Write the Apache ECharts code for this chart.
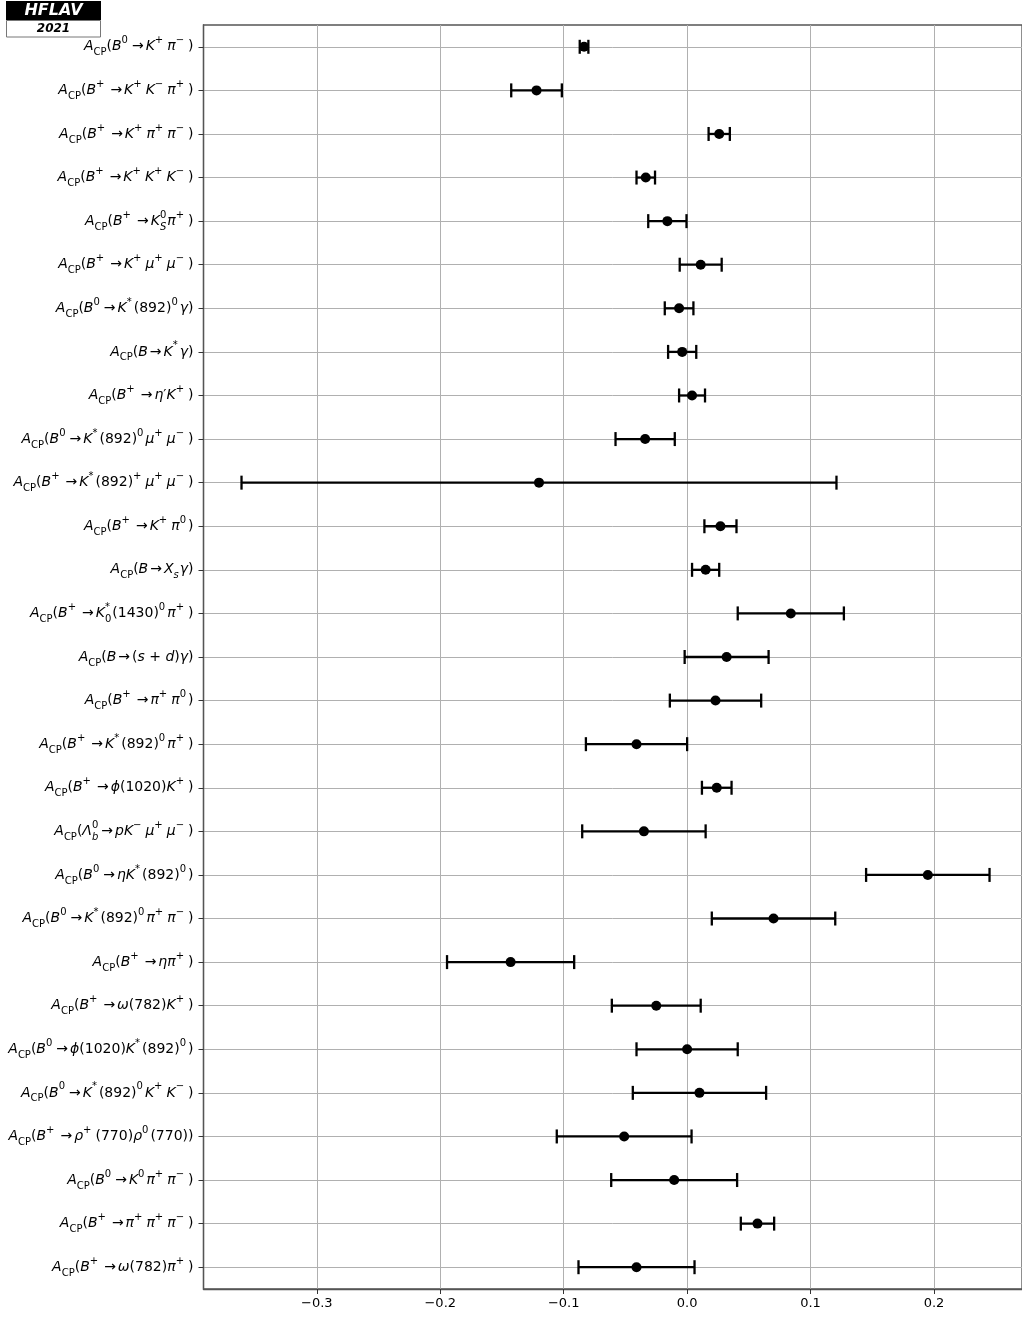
<!DOCTYPE html>
<html>
<head>
<meta charset="utf-8">
<script src="https://cdn.jsdelivr.net/npm/echarts@6/dist/echarts.min.js"></script>
<style>
html,body{margin:0;padding:0;background:#fff;}
#chart{width:1022px;height:1317px;}
</style>
</head>
<body>
<div id="chart"></div>
<script>
// ---- data ----
const labels = [
  "A_{CP}(B^{0}→K^{+}π^{−})",
  "A_{CP}(B^{+}→K^{+}K^{−}π^{+})",
  "A_{CP}(B^{+}→K^{+}π^{+}π^{−})",
  "A_{CP}(B^{+}→K^{+}K^{+}K^{−})",
  "A_{CP}(B^{+}→K^{0}_{S}π^{+})",
  "A_{CP}(B^{+}→K^{+}μ^{+}μ^{−})",
  "A_{CP}(B^{0}→K^{*}(892)^{0}γ)",
  "A_{CP}(B→K^{*}γ)",
  "A_{CP}(B^{+}→η′K^{+})",
  "A_{CP}(B^{0}→K^{*}(892)^{0}μ^{+}μ^{−})",
  "A_{CP}(B^{+}→K^{*}(892)^{+}μ^{+}μ^{−})",
  "A_{CP}(B^{+}→K^{+}π^{0})",
  "A_{CP}(B→X_{s}γ)",
  "A_{CP}(B^{+}→K^{*}_{0}(1430)^{0}π^{+})",
  "A_{CP}(B→(s + d)γ)",
  "A_{CP}(B^{+}→π^{+}π^{0})",
  "A_{CP}(B^{+}→K^{*}(892)^{0}π^{+})",
  "A_{CP}(B^{+}→ϕ(1020)K^{+})",
  "A_{CP}(Λ^{0}_{b}→pK^{−}μ^{+}μ^{−})",
  "A_{CP}(B^{0}→ηK^{*}(892)^{0})",
  "A_{CP}(B^{0}→K^{*}(892)^{0}π^{+}π^{−})",
  "A_{CP}(B^{+}→ηπ^{+})",
  "A_{CP}(B^{+}→ω(782)K^{+})",
  "A_{CP}(B^{0}→ϕ(1020)K^{*}(892)^{0})",
  "A_{CP}(B^{0}→K^{*}(892)^{0}K^{+}K^{−})",
  "A_{CP}(B^{+}→ρ^{+}(770)ρ^{0}(770))",
  "A_{CP}(B^{0}→K^{0}π^{+}π^{−})",
  "A_{CP}(B^{+}→π^{+}π^{+}π^{−})",
  "A_{CP}(B^{+}→ω(782)π^{+})"
];
const centers = [-0.0835, -0.122, 0.026, -0.0335, -0.016, 0.011, -0.0065, -0.004, 0.004, -0.034,
                 -0.12, 0.027, 0.015, 0.084, 0.032, 0.023, -0.041, 0.024, -0.035, 0.195,
                 0.07, -0.143, -0.025, 0.0, 0.01, -0.051, -0.0105, 0.057, -0.041];
const errors  = [0.0035, 0.0205, 0.0086, 0.0075, 0.0155, 0.017, 0.0116, 0.0114, 0.0105, 0.024,
                 0.241, 0.013, 0.011, 0.043, 0.034, 0.037, 0.041, 0.012, 0.05, 0.05,
                 0.05, 0.0515, 0.036, 0.041, 0.054, 0.0546, 0.051, 0.0135, 0.047];
const xTicks = [-0.3, -0.2, -0.1, 0.0, 0.1, 0.2];
const logoTitle = "HFLAV";
const logoYear = "2021";

// ---- label markup -> rich text ----
function isLetter(ch){ return /[A-Za-z\u0370-\u03FF]/.test(ch); }
function toRich(s){
  const segs = [];
  const push = (st, t) => {
    if (segs.length && segs[segs.length-1][0] === st) segs[segs.length-1][1] += t;
    else segs.push([st, t]);
  };
  let i = 0;
  while (i < s.length) {
    const c = s[i];
    if ((c === '^' || c === '_') && s[i+1] === '{') {
      const j = s.indexOf('}', i);
      const content = s.slice(i+2, j);
      const nx = s[j+1];
      const stacked = (nx === '^' || nx === '_') && s[j+2] === '{';
      const kind = c === '^' ? 'p' : 'b';
      if (stacked) {
        push(kind + (isLetter(content[0]) ? 'i' : 'n') + 'z', content);
      } else {
        const buf = [];
        for (const ch of content) {
          const it = isLetter(ch) && content !== 'CP';
          buf.push([kind + (it ? 'i' : 'n'), ch]);
        }
        buf.forEach((b, k) => {
          let st = b[0];
          if (k === buf.length - 1 && kind === 'p') st += (/[+\u2212]/.test(b[1]) ? 'w' : 's');
          else if (k === buf.length - 1 && content !== 'CP') st += 's';
          push(st, b[1]);
        });
      }
      i = j + 1;
    } else if (c === '→') {
      push('ar', c); i++;
    } else {
      push(isLetter(c) ? 'i' : 'n', c);
      i++;
    }
  }
  return segs.map(([st, t]) => '{' + st + '|' + t + '}').join('');
}
const richLabels = labels.map(toRich);
const FF = '"DejaVu Sans", "Liberation Sans", sans-serif';
const BASE = 14, SCR = 10;
function mk(size, va, extra){ return Object.assign({fontFamily: FF, fontSize: size, color: '#000', lineHeight: size === BASE ? 22 : 11, verticalAlign: va, align: 'left'}, extra || {}); }
const rich = {
  n:  mk(BASE, 'middle'),
  i:  mk(BASE, 'middle', {fontStyle: 'italic'}),
  ar: mk(BASE, 'middle', {padding: [0, 2, 0, 2]}),
  pn: mk(SCR, 'top'),
  pi: mk(SCR, 'top', {fontStyle: 'italic'}),
  bn: mk(SCR, 'bottom'),
  bi: mk(SCR, 'bottom', {fontStyle: 'italic'}),
  pns: mk(SCR, 'top', {padding: [0, 2, 0, 0]}),
  pis: mk(SCR, 'top', {fontStyle: 'italic', padding: [0, 2, 0, 0]}),
  pnw: mk(SCR, 'top', {padding: [0, 4, 0, 0]}),
  piw: mk(SCR, 'top', {fontStyle: 'italic', padding: [0, 4, 0, 0]}),
  bns: mk(SCR, 'bottom', {padding: [0, 1, 0, 0]}),
  bis: mk(SCR, 'bottom', {fontStyle: 'italic', padding: [0, 1, 0, 0]}),
  pnz: mk(SCR, 'top', {width: 0}),
  piz: mk(SCR, 'top', {width: 0, fontStyle: 'italic'}),
  bnz: mk(SCR, 'bottom', {width: 0}),
  biz: mk(SCR, 'bottom', {width: 0, fontStyle: 'italic'})
};

const rowIdx = labels.map((_, k) => k);
const errData = centers.map((c, k) => [c - errors[k], c + errors[k], k]);
const ptData = centers.map((c, k) => [c, k]);

const chart = echarts.init(document.getElementById('chart'), null, {renderer: 'canvas'});
chart.setOption({
  animation: false,
  backgroundColor: '#fff',
  grid: {left: 203.5, right: 0, top: 25, bottom: 28, show: true, borderColor: '#555', borderWidth: 1.3, backgroundColor: 'transparent'},
  xAxis: {
    type: 'value', min: -0.3918, max: 0.2713,
    axisLine: {show: true, onZero: false, lineStyle: {color: '#555', width: 1.3}},
    axisTick: {show: true, length: 5, customValues: xTicks, lineStyle: {color: '#333', width: 1}},
    axisLabel: {customValues: xTicks, margin: 8, color: '#000', fontFamily: FF, fontSize: 13,
      formatter: v => v.toFixed(1).replace('-', '\u2212')},
    splitLine: {show: true, lineStyle: {color: '#b0b0b0', width: 1}}
  },
  yAxis: {
    type: 'value', inverse: true, min: -0.5, max: 28.5,
    axisLine: {show: true, onZero: false, lineStyle: {color: '#555', width: 1.3}},
    axisTick: {show: true, length: 5, customValues: rowIdx, lineStyle: {color: '#333', width: 1}},
    axisLabel: {customValues: rowIdx, margin: 10, rich: rich,
      formatter: v => richLabels[Math.round(v)]},
    splitLine: {show: true, lineStyle: {color: '#b0b0b0', width: 1}}
  },
  graphic: [
    {type: 'rect', shape: {x: 6, y: 1, width: 95, height: 19}, style: {fill: '#000'}},
    {type: 'text', x: 53.5, y: 11, style: {text: logoTitle, fill: '#fff', font: 'italic bold 16px ' + FF, align: 'center', verticalAlign: 'middle'}},
    {type: 'rect', shape: {x: 6.5, y: 20.5, width: 94, height: 16.5}, style: {fill: '#fff', stroke: '#777', lineWidth: 1}},
    {type: 'text', x: 53.5, y: 29, style: {text: logoYear, fill: '#000', font: 'italic bold 12px ' + FF, align: 'center', verticalAlign: 'middle'}}
  ],
  series: [
    {
      type: 'custom',
      data: errData,
      z: 3,
      silent: true,
      renderItem: function (params, api) {
        const y = api.value(2);
        const p1 = api.coord([api.value(0), y]);
        const p2 = api.coord([api.value(1), y]);
        const h = 7;
        const st = {stroke: '#000', lineWidth: 2.3};
        return {
          type: 'group',
          children: [
            {type: 'line', shape: {x1: p1[0], y1: p1[1], x2: p2[0], y2: p2[1]}, style: st},
            {type: 'line', shape: {x1: p1[0], y1: p1[1] - h, x2: p1[0], y2: p1[1] + h}, style: st},
            {type: 'line', shape: {x1: p2[0], y1: p2[1] - h, x2: p2[0], y2: p2[1] + h}, style: st}
          ]
        };
      }
    },
    {
      type: 'scatter',
      data: ptData,
      z: 4,
      symbol: 'circle',
      symbolSize: 10,
      itemStyle: {color: '#000', opacity: 1},
      silent: true
    }
  ]
});
</script>
</body>
</html>
